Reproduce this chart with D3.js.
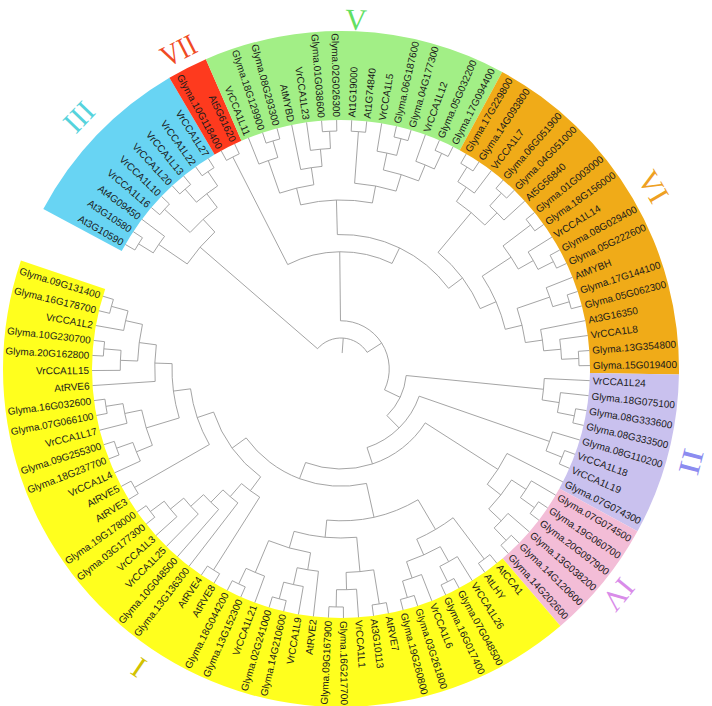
<!DOCTYPE html>
<html><head><meta charset="utf-8">
<script src="https://cdn.jsdelivr.net/npm/d3@7"></script>
<style>body{margin:0;background:#fff}</style>
</head><body><svg id="chart" width="712" height="706"></svg>
<script>
// ---------- data: tree topology (leaf names, clockwise order) ----------
const cladeIII = [[["At3G10590","At3G10580"],"At4G09450"],[["VrCCA1L16","VrCCA1L10"],[["VrCCA1L20","VrCCA1L13"],["VrCCA1L22","VrCCA1L27"]]]];
const cladeVII = ["Glyma.10G118400","At5G61620"];
const cladeV = [[["VrCCA1L11",["Glyma.18G129900","Glyma.08G293300"]],["AtMYBD",["VrCCA1L23",["Glyma.01G038600","Glyma.02G026300"]]]],
                [["At1G19000","At1G74840"],[["VrCCA1L5",["Glyma.06G187600","Glyma.04G177300"]],["VrCCA1L12",["Glyma.05G032200","Glyma.17G094400"]]]]];
const cladeVIa = [[["Glyma.17G229800","Glyma.14G093800"],"VrCCA1L7"],[["Glyma.06G051900","Glyma.04G051000"],"At5G56840"]];
const cladeVIb = [["Glyma.01G003000","Glyma.18G156000"],["VrCCA1L14",["Glyma.08G029400","Glyma.05G222600"]]];
const cladeVIc = [["AtMYBH",["Glyma.17G144100","Glyma.05G062300"]],["At3G16350",["VrCCA1L8",["Glyma.13G354800","Glyma.15G019400"]]]];
const cladeIIa = ["VrCCA1L24",["Glyma.18G075100",["Glyma.08G333600","Glyma.08G333500"]]];
const cladeIIb = ["Glyma.08G110200",["VrCCA1L18","VrCCA1L19"]];
const cladeIV = [["Glyma.07G074500",["Glyma.19G060700","Glyma.20G097900"]],["Glyma.13G038200",["Glyma.14G120600","Glyma.14G202600"]]];
const cladeCCA1 = [["AtCCA1","AtLHY"],[["VrCCA1L26",["Glyma.07G048500","Glyma.16G017400"]],["VrCCA1L6",["Glyma.03G261800","Glyma.19G260800"]]]];
const cladeRVE27 = [[["AtRVE7","At3G10113"],["VrCCA1L1",["Glyma.16G217700","Glyma.09G167900"]]],
                    [["AtRVE2",["VrCCA1L9",["Glyma.14G210600","Glyma.02G241000"]]],["VrCCA1L21",["Glyma.13G152300","Glyma.18G044200"]]]];
const cladeRVE48 = [["AtRVE8","AtRVE4"],["Glyma.13G136300",["Glyma.10G048500",["VrCCA1L25",["VrCCA1L3",["Glyma.03G177300","Glyma.19G178000"]]]]]];
const cladeRVE35 = ["AtRVE3","AtRVE5"];
const cladeRVE4L = [["VrCCA1L4",["Glyma.18G237700","Glyma.09G255300"]],["VrCCA1L17",["Glyma.07G066100","Glyma.16G032600"]]];
const cladeRVE6 = ["AtRVE6",[["VrCCA1L15",["Glyma.20G162800","Glyma.10G230700"]],["VrCCA1L2",["Glyma.16G178700","Glyma.09G131400"]]]];

const cladeVI = [cladeVIa,[cladeVIb,cladeVIc]];
const cladeI = [[cladeCCA1,cladeRVE27],[cladeRVE48,[cladeRVE35,[cladeRVE4L,cladeRVE6]]]];
const tree = [cladeIII,[[cladeVII,[cladeV,cladeVI]],[cladeIIa,[cladeIIb,[["Glyma.07G074300",cladeIV],cladeI]]]]];

// groups: name, first leaf, last leaf
const groupNames = ["III","VII","V","VI","II","IV","I"];
const groupFirst = ["At3G10590","Glyma.10G118400","VrCCA1L11","Glyma.17G229800","VrCCA1L24","Glyma.07G074500","AtCCA1"];
const groupLast  = ["VrCCA1L27","At5G61620","Glyma.17G094400","Glyma.15G019400","Glyma.07G074300","Glyma.14G202600","Glyma.09G131400"];

// ---------- styles ----------
const bandColor = {III:"#68d4f3",VII:"#fe3a1e",V:"#a2ef86",VI:"#f0ab18",II:"#c9c1ee",IV:"#f3bdd7",I:"#ffff1e"};
const numColor  = {III:"#55d3dc",VII:"#f04a24",V:"#62e062",VI:"#eea022",II:"#8c8cf0",IV:"#d98ce9",I:"#d2c200"};
const numRadius = {III:364,VII:358,V:350,VI:362,II:363,IV:358,I:361};
const numLength = {III:30,VII:36,VI:32,II:26,IV:32};

const W = 712, H = 706, cx = 341, cy = 369;
const rTip = 249, rLabel = 252, rOuter = 338;

const svg = d3.select("#chart");
const g = svg.append("g").attr("transform", `translate(${cx},${cy})`);

const root = d3.hierarchy(tree, d => Array.isArray(d) ? d : null);
const leaves = root.leaves();
const angle = d3.scaleLinear().domain([0, leaves.length - 1]).range([-150, 197]);
const step = angle(1) - angle(0);
leaves.forEach((l, i) => { l.a = angle(i); l.r = rTip; });
const rad = d3.scaleLinear().domain([1, root.height]).range([238, 31]);
root.eachAfter(n => {
  if (n.children) { n.a = d3.mean(n.children, c => c.a); n.r = rad(n.height); }
});
const toRad = a => a * Math.PI / 180;
const idx = {};
leaves.forEach((l, i) => idx[l.data] = i);

// bands
const arcGen = d3.arc().innerRadius(rTip).outerRadius(rOuter);
groupNames.forEach((nm, k) => {
  const a0 = angle(idx[groupFirst[k]]) - step / 2, a1 = angle(idx[groupLast[k]]) + step / 2;
  g.append("path").attr("d", arcGen({startAngle: toRad(a0 + 90), endAngle: toRad(a1 + 90)}))
    .attr("fill", bandColor[nm]);
});

// branches
const p = d3.path();
root.each(n => {
  if (n.children) {
    const as = n.children.map(c => c.a);
    const a0 = toRad(d3.min(as)), a1 = toRad(d3.max(as));
    p.moveTo(n.r * Math.cos(a0), n.r * Math.sin(a0));
    p.arc(0, 0, n.r, a0, a1);
  }
  if (n.parent) {
    const t = toRad(n.a);
    p.moveTo(n.parent.r * Math.cos(t), n.parent.r * Math.sin(t));
    p.lineTo(n.r * Math.cos(t), n.r * Math.sin(t));
  }
});
{
  const t = toRad(root.a);
  p.moveTo(16 * Math.cos(t), 16 * Math.sin(t));
  p.lineTo(root.r * Math.cos(t), root.r * Math.sin(t));
}
g.append("path").attr("d", p.toString()).attr("fill", "none")
  .attr("stroke", "#9a9a9a").attr("stroke-width", 0.9);

// leaf labels
leaves.forEach(l => {
  const flip = Math.cos(toRad(l.a)) < 0;
  g.append("text")
    .attr("transform", `rotate(${l.a}) translate(${rLabel},0)` + (flip ? " rotate(180)" : ""))
    .attr("text-anchor", flip ? "end" : "start")
    .attr("dy", "0.35em")
    .attr("font-family", "Liberation Sans, Arial, sans-serif")
    .attr("font-size", 10)
    .attr("fill", "#1a1a1a")
    .text(l.data);
});

// group numerals
groupNames.forEach((nm, k) => {
  const a = (angle(idx[groupFirst[k]]) + angle(idx[groupLast[k]])) / 2;
  const t = toRad(a), r = numRadius[nm];
  const tx = g.append("text")
    .attr("transform", `translate(${r * Math.cos(t)},${r * Math.sin(t)}) rotate(${a + 90})`)
    .attr("text-anchor", "middle").attr("dy", "0.35em")
    .attr("font-family", "Liberation Serif, Times New Roman, serif")
    .attr("font-size", 30)
    .attr("fill", numColor[nm])
    .text(nm);
  if (numLength[nm]) tx.attr("textLength", numLength[nm]).attr("lengthAdjust", "spacingAndGlyphs");
});
</script></body></html>
